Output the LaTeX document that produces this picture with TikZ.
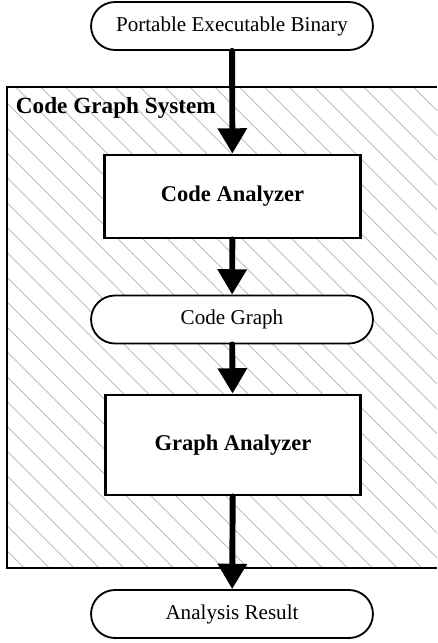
\documentclass[tikz,border=0pt]{standalone}
\usepackage{fontspec}
\setmainfont{Liberation Serif}
\usepackage{tikz}
\usetikzlibrary{arrows.meta}
\usetikzlibrary{shapes.misc}
\usetikzlibrary{patterns.meta}

\begin{document}
\begin{tikzpicture}[x=0.025cm, y=-0.025cm,
    terminal/.style={rounded rectangle, draw, line width=1.3pt, fill=white,
        minimum width=7.28cm, minimum height=1.2cm, font=\fontsize{15}{18}\selectfont},
    module/.style={rectangle, draw, line width=2pt, fill=white,
        minimum width=6.38cm, font=\fontsize{16}{19}\selectfont\bfseries},
    flow/.style={line width=4.2pt, line cap=round, -{Triangle[width=20pt, length=18pt]}}]
    \useasboundingbox (0,0) rectangle (437,643);
    % hatched system area, open on the right
    \path[pattern={Lines[angle=-45, distance=12.5pt, line width=0.5pt]}, pattern color=gray!60]
        (7,87) rectangle (437,568);
    \draw[line width=1.3pt] (437,87) -- (7,87) -- (7,568) -- (437,568);
    \node[anchor=west, font=\fontsize{16.5}{19}\selectfont\bfseries] (sys) at (11,108) {Code Graph System};

    \node[terminal] (peb) at (232,26) {Portable Executable Binary};
    \node[module, minimum height=2.075cm] (ca) at (232.5,196.5) {Code Analyzer};
    \node[terminal] (cg) at (232,319.5) {Code Graph};
    \node[module, minimum height=2.5cm] (ga) at (233,445) {Graph Analyzer};
    \node[terminal] (res) at (232,614) {Analysis Result};

    \draw[flow] (peb) -- (ca);
    \draw[flow] (ca) -- (cg);
    \draw[flow] (cg) -- (ga);
    \draw[flow] (ga) -- (res);
\end{tikzpicture}
\end{document}
